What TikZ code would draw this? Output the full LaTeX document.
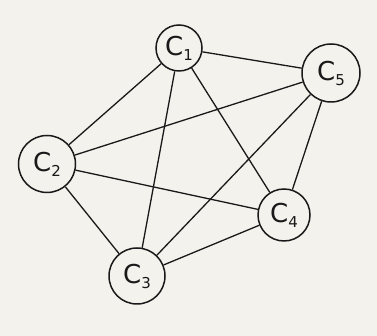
\documentclass[tikz,border=0pt]{standalone}
\usepackage{fontspec}
\setmainfont{DejaVu Sans}
\newcommand{\clab}[1]{C\raisebox{-5pt}{\fontsize{15}{16}\selectfont #1}}
\begin{document}
\begin{tikzpicture}[x=1pt,y=1pt,
  cnode/.style={draw=black!90,line width=1.5pt,circle,inner sep=0pt,
    font=\fontsize{26}{28}\selectfont,text=black!90},
  edge/.style={draw=black!90,line width=1.3pt}]
\fill[color={rgb,255:red,244;green,242;blue,237}] (0,0) rectangle (377,336);
\useasboundingbox (0,0) rectangle (377,336);
\node[cnode,minimum size=46pt] (c1) at (179,288) {\clab{1}};
\node[cnode,minimum size=58pt] (c5) at (331,263) {\clab{5}};
\node[cnode,minimum size=57pt] (c2) at (47,172) {\clab{2}};
\node[cnode,minimum size=52pt] (c4) at (284,121) {\clab{4}};
\node[cnode,minimum size=56pt] (c3) at (137,60) {\clab{3}};
\draw[edge] (c1) -- (c5);
\draw[edge] (c1) -- (c2);
\draw[edge] (c1) -- (c3);
\draw[edge] (c1) -- (c4);
\draw[edge] (c2) -- (c5);
\draw[edge] (c2) -- (c4);
\draw[edge] (c2) -- (c3);
\draw[edge] (c3) -- (c5);
\draw[edge] (c3) -- (c4);
\draw[edge] (c4) -- (c5);
\end{tikzpicture}
\end{document}
